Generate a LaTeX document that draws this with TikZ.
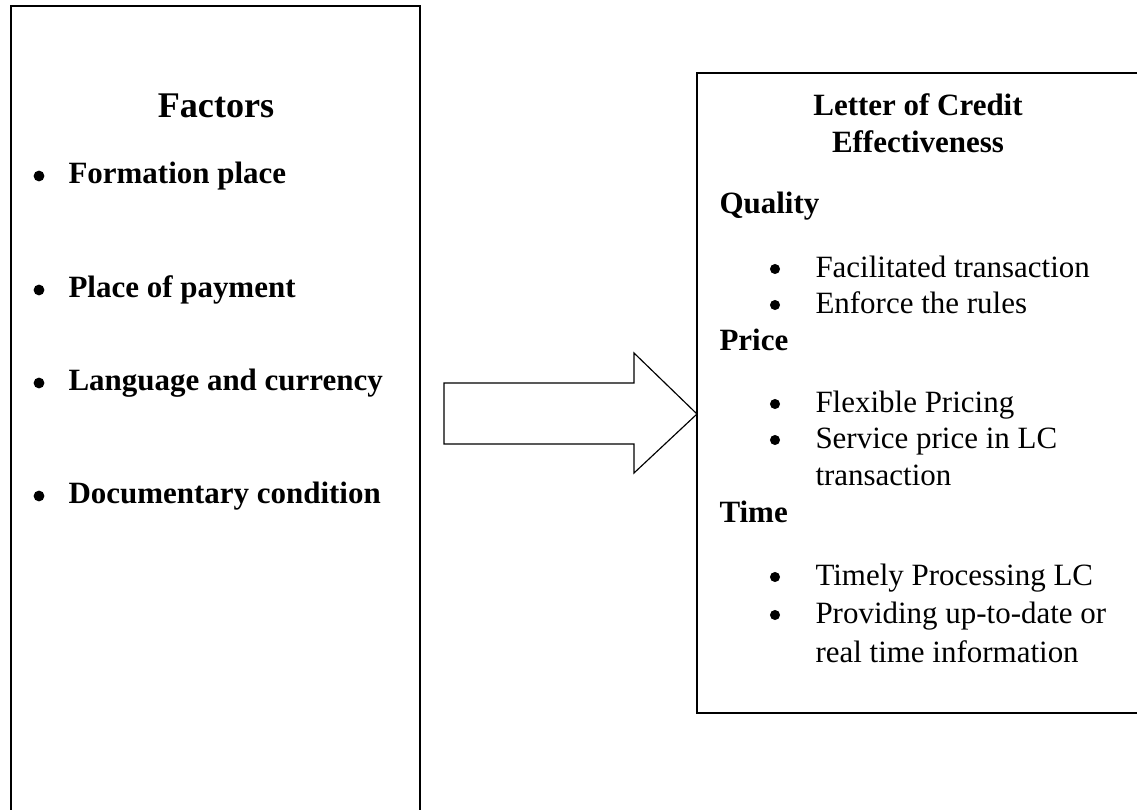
\documentclass[tikz,border=0pt]{standalone}
\usepackage{fontspec}
\setmainfont{Liberation Serif}
\begin{document}
\begin{tikzpicture}[x=0.3875pt,y=-0.3875pt,
  txt/.style={anchor=base west,inner sep=0pt,font=\fontsize{12pt}{14pt}\selectfont},
  bld/.style={anchor=base west,inner sep=0pt,font=\fontsize{12pt}{14pt}\selectfont\bfseries},
  ttl/.style={anchor=base,inner sep=0pt,font=\fontsize{12pt}{14pt}\selectfont\bfseries},
  dot/.style={circle,fill=black,inner sep=0pt,minimum size=3.9pt}]
\useasboundingbox (0,0) rectangle (1137,810);
\clip (0,0) rectangle (1137,810);
\draw [line width=0.55pt] (11,830) -- (11,6) -- (420,6) -- (420,830);
\draw [line width=0.55pt] (1160,73) -- (697,73) -- (697,713) -- (1160,713);
\coordinate (T) at (697,414);
\draw [line width=0.45pt] (444,383) -- (634,383) -- (634,353) -- (T) -- (634,473) -- (634,444) -- (444,444) -- cycle;
\node [ttl,font=\fontsize{14pt}{16pt}\selectfont\bfseries] (F) at (216,118) {Factors};
\foreach \y/\t [count=\i] in {183/Formation place,297/Place of payment,390/Language and currency,503/Documentary condition}{
  \node [dot,minimum size=4.2pt] (b\i) at (39,\y-7) {};
  \node [bld] (f\i) at (68,\y) {\t};
}
\node [ttl] (L1) at (918,115) {Letter of Credit};
\node [ttl] (L2) at (918,152) {Effectiveness};
\node [bld] (Q) at (719,213) {Quality};
\node [dot] (q1) at (775,269) {};
\node [txt] at (815,277) {Facilitated transaction};
\node [dot] (q2) at (775,305) {};
\node [txt] at (815,313) {Enforce the rules};
\node [bld] (P) at (719,350) {Price};
\node [dot] (p1) at (775,404) {};
\node [txt] at (815,412) {Flexible Pricing};
\node [dot] (p2) at (775,440) {};
\node [txt] at (815,448) {Service price in LC};
\node [txt] at (815,485) {transaction};
\node [bld] (Ti) at (719,522) {Time};
\node [dot] (t1) at (775,577) {};
\node [txt] at (815,585) {Timely Processing LC};
\node [dot] (t2) at (775,615) {};
\node [txt] at (815,623) {Providing up-to-date or};
\node [txt] at (815,662) {real time information};
\end{tikzpicture}
\end{document}
